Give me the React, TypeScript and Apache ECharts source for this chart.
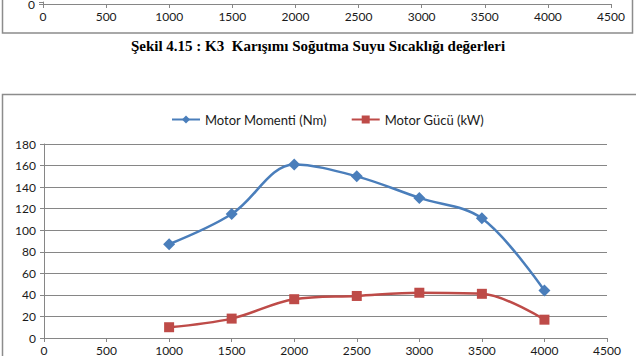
import React, { useEffect, useRef } from "react";
import * as echarts from "echarts";

const rpm = [1000, 1500, 2000, 2500, 3000, 3500, 4000];
const motorMomenti = [87, 115, 161, 150, 130, 111, 44];
const motorGucu = [10, 18, 36, 39, 42, 41, 17];
const seriesNames = ["Motor Momenti (Nm)", "Motor Gücü (kW)"];
const caption = "Şekil 4.15 : K3  Karışımı Soğutma Suyu Sıcaklığı değerleri";

const FONT = "Lato, 'Open Sans', sans-serif";
const AXIS_GRAY = "#868686";

export default function App() {
  const ref = useRef<HTMLDivElement>(null);
  useEffect(() => {
    if (!ref.current) return;
    const chart = echarts.init(ref.current, undefined, { renderer: "svg" });
    const labelStyle = { color: "#1a1a1a", fontSize: 12, fontFamily: FONT };
    const plain = (v: number) => String(v);
    chart.setOption({
      animation: false,
      backgroundColor: "#ffffff",
      legend: {
        top: 108,
        left: 166,
        itemWidth: 28,
        itemHeight: 10,
        itemGap: 24,
        textStyle: { ...labelStyle, fontSize: 13 },
        data: seriesNames,
      },
      grid: [
        { left: 43, right: 25, top: 0, height: 4 },
        { left: 44, right: 29, top: 144, bottom: 18 },
      ],
      xAxis: [
        {
          gridIndex: 0,
          type: "value",
          min: 0,
          max: 4500,
          interval: 500,
          axisLine: { show: true, lineStyle: { color: AXIS_GRAY, width: 1 } },
          axisTick: { show: true, length: 4, lineStyle: { color: AXIS_GRAY } },
          axisLabel: { ...labelStyle, margin: 6, formatter: plain },
          splitLine: { show: false },
        },
        {
          gridIndex: 1,
          type: "value",
          min: 0,
          max: 4500,
          interval: 500,
          axisLine: { show: true, lineStyle: { color: AXIS_GRAY, width: 1 } },
          axisTick: { show: true, length: 4, lineStyle: { color: AXIS_GRAY } },
          axisLabel: { ...labelStyle, margin: 6, formatter: plain },
          splitLine: { show: false },
        },
      ],
      yAxis: [
        {
          gridIndex: 0,
          type: "value",
          min: 0,
          max: 20,
          interval: 20,
          axisLine: { show: true, lineStyle: { color: AXIS_GRAY, width: 1 } },
          axisTick: { show: true, length: 4, lineStyle: { color: AXIS_GRAY } },
          axisLabel: {
            ...labelStyle,
            margin: 8,
            hideOverlap: false,
            formatter: (v: number) => (v === 0 ? "0" : ""),
          },
          splitLine: { show: false },
        },
        {
          gridIndex: 1,
          type: "value",
          min: 0,
          max: 180,
          interval: 20,
          axisLine: { show: true, lineStyle: { color: AXIS_GRAY, width: 1 } },
          axisTick: { show: true, length: 4, lineStyle: { color: AXIS_GRAY } },
          axisLabel: { ...labelStyle, margin: 8 },
          splitLine: { show: true, lineStyle: { color: AXIS_GRAY, width: 1 } },
        },
      ],
      graphic: [
        {
          type: "rect",
          shape: { x: 2.5, y: -20, width: 630, height: 53 },
          style: { fill: "none", stroke: "#8c8c8c", lineWidth: 1.5 },
          silent: true,
        },
        {
          type: "rect",
          shape: { x: 2.5, y: 94.5, width: 660, height: 300 },
          style: { fill: "none", stroke: "#8c8c8c", lineWidth: 1.5 },
          silent: true,
        },
        {
          type: "text",
          x: 318,
          y: 46,
          style: {
            text: caption,
            fill: "#000",
            font: "bold 15px 'Liberation Serif', 'Times New Roman', serif",
            textAlign: "center",
            textVerticalAlign: "middle",
          },
        },
      ],
      series: [
        {
          name: seriesNames[0],
          type: "line",
          xAxisIndex: 1,
          yAxisIndex: 1,
          data: rpm.map((x, i) => [x, motorMomenti[i]]),
          smooth: 0.35,
          symbol: "diamond",
          symbolSize: 12,
          lineStyle: { color: "#4a7ebb", width: 2.5 },
          itemStyle: { color: "#4a7ebb" },
        },
        {
          name: seriesNames[1],
          type: "line",
          xAxisIndex: 1,
          yAxisIndex: 1,
          data: rpm.map((x, i) => [x, motorGucu[i]]),
          smooth: 0.35,
          symbol: "rect",
          symbolSize: 10,
          lineStyle: { color: "#be4b48", width: 2.5 },
          itemStyle: { color: "#be4b48" },
        },
      ],
    });
    return () => chart.dispose();
  }, []);
  return (
    <div
      ref={ref}
      style={{ position: "fixed", left: 0, top: 0, width: 636, height: 356 }}
    />
  );
}
